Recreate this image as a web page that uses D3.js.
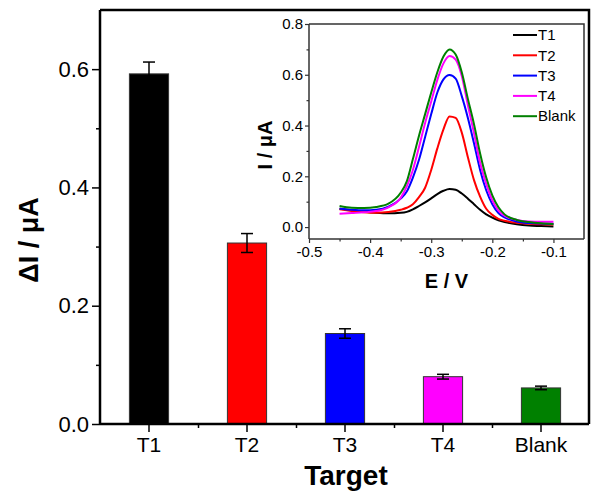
<!DOCTYPE html>
<html><head><meta charset="utf-8">
<script src="https://cdn.jsdelivr.net/npm/d3@7"></script>
<style>
html,body{margin:0;padding:0;background:#fff;}
text{font-family:"Liberation Sans",Arial,Helvetica,sans-serif;}
</style></head>
<body>
<svg id="c" width="597" height="492"></svg>
<script>
// ---------- main bar chart data ----------
const categories = ["T1","T2","T3","T4","Blank"];
const barValues  = [0.592, 0.306, 0.153, 0.080, 0.061];
const barErrors  = [0.020, 0.016, 0.008, 0.004, 0.003];
const barColors  = ["#000000","#ff0000","#0000ff","#ff00ff","#008000"];
const yTicksMain = [0.0, 0.2, 0.4, 0.6];
const yMinorMain = [0.1, 0.3, 0.5];

// ---------- inset DPV curves ----------
const potential = [-0.45,-0.43,-0.41,-0.39,-0.37,-0.35,-0.34,-0.33,-0.32,-0.31,-0.30,-0.29,-0.28,-0.27,-0.26,-0.25,-0.24,-0.23,-0.22,-0.21,-0.20,-0.19,-0.18,-0.16,-0.14,-0.12,-0.10];
const curveT1    = [0.072,0.066,0.060,0.056,0.054,0.056,0.060,0.070,0.083,0.097,0.113,0.130,0.143,0.150,0.147,0.132,0.112,0.090,0.068,0.050,0.037,0.027,0.020,0.011,0.006,0.004,0.002];
const curveT2    = [0.070,0.063,0.058,0.056,0.059,0.068,0.076,0.090,0.118,0.155,0.225,0.310,0.385,0.436,0.430,0.372,0.275,0.185,0.120,0.072,0.048,0.032,0.025,0.017,0.013,0.011,0.010];
const curveT3    = [0.072,0.068,0.066,0.068,0.080,0.112,0.140,0.195,0.265,0.355,0.445,0.530,0.582,0.599,0.585,0.516,0.430,0.330,0.225,0.145,0.090,0.055,0.038,0.022,0.016,0.014,0.013];
const curveT4    = [0.052,0.055,0.058,0.063,0.078,0.115,0.160,0.225,0.315,0.410,0.495,0.580,0.645,0.674,0.660,0.595,0.480,0.370,0.253,0.170,0.105,0.065,0.045,0.028,0.022,0.021,0.021];
const curveBlank = [0.083,0.076,0.075,0.079,0.092,0.135,0.180,0.268,0.360,0.445,0.530,0.610,0.672,0.700,0.680,0.610,0.505,0.405,0.290,0.195,0.125,0.078,0.050,0.028,0.020,0.015,0.012];
const curveNames = ["T1","T2","T3","T4","Blank"];
const curveColors = ["#000000","#ff0000","#0000ff","#ff00ff","#008000"];
const insetXTicks = [-0.5,-0.4,-0.3,-0.2,-0.1];
const insetXMinor = [-0.45,-0.35,-0.25,-0.15];
const insetYTicks = [0.0,0.2,0.4,0.6,0.8];
const insetYMinor = [0.1,0.3,0.5,0.7];

const svg = d3.select("#c");

// ---------- main chart ----------
const M = {left:100, right:589, top:10, bottom:424};
const x = d3.scaleBand().domain(categories).range([M.left, M.right+1]).paddingInner(0.6).paddingOuter(0.3);
const y = d3.scaleLinear().domain([0, 0.7]).range([M.bottom, M.top]);

// bars
const bars = categories.map((c,i)=>({c, v:barValues[i], e:barErrors[i], col:barColors[i]}));
svg.append("g").selectAll("rect").data(bars).join("rect")
  .attr("x", d=>x(d.c)).attr("width", x.bandwidth())
  .attr("y", d=>y(d.v)).attr("height", d=>y(0)-y(d.v))
  .attr("fill", d=>d.col).attr("stroke","#333").attr("stroke-width",1);

// error bars
const eg = svg.append("g").attr("stroke","#000").attr("stroke-width",1.5);
bars.forEach(d=>{
  const cx = x(d.c)+x.bandwidth()/2;
  eg.append("line").attr("x1",cx).attr("x2",cx).attr("y1",y(d.v+d.e)).attr("y2",y(d.v-d.e));
  eg.append("line").attr("x1",cx-6).attr("x2",cx+6).attr("y1",y(d.v+d.e)).attr("y2",y(d.v+d.e));
  eg.append("line").attr("x1",cx-6).attr("x2",cx+6).attr("y1",y(d.v-d.e)).attr("y2",y(d.v-d.e));
});

// frame
svg.append("path")
  .attr("d",`M${M.left},${M.top}H${M.right}V${M.bottom}`)
  .attr("fill","none").attr("stroke","#000").attr("stroke-width",2.5);

// y axis
const yAx = svg.append("g").attr("transform",`translate(${M.left},0)`)
  .call(d3.axisLeft(y).tickValues(yTicksMain).tickFormat(d3.format(".1f")).tickSize(8).tickPadding(3));
const yMin = svg.append("g").attr("transform",`translate(${M.left},0)`)
  .call(d3.axisLeft(y).tickValues(yMinorMain).tickFormat("").tickSize(4));
// x axis
const xAx = svg.append("g").attr("transform",`translate(0,${M.bottom})`)
  .call(d3.axisBottom(x).tickSize(8).tickPadding(5));
const bounds = categories.slice(1).map(c=>x(c) - x.step()*x.paddingInner()/2);
const xm = d3.scaleLinear().domain([M.left, M.right]).range([M.left, M.right]);
const xMin = svg.append("g").attr("transform",`translate(0,${M.bottom})`)
  .call(d3.axisBottom(xm).tickValues(bounds).tickFormat("").tickSize(4));
yMin.select(".domain").remove();
xMin.select(".domain").remove();
[yAx, xAx, yMin, xMin].forEach(g=>{
  g.selectAll(".domain").attr("stroke","#000").attr("stroke-width",2.5);
  g.selectAll(".tick line").attr("stroke","#000").attr("stroke-width",1.5);
});
yAx.selectAll("text").attr("font-size",22).attr("fill","#000");
xAx.selectAll("text").attr("font-size",21).attr("fill","#000");
yAx.select(".domain").attr("d",`M0,${M.bottom}V${M.top}`);
xAx.select(".domain").attr("d",`M${M.left},0H${M.right}`);

svg.append("text").attr("transform","translate(38,240) rotate(-90)")
  .attr("text-anchor","middle").attr("font-size",27).attr("font-weight","bold").text("ΔI / μA");
svg.append("text").attr("x",346).attr("y",485)
  .attr("text-anchor","middle").attr("font-size",28).attr("font-weight","bold").text("Target");

// ---------- inset ----------
const I = {left:309, right:584, top:24, bottom:239};
const ix = d3.scaleLinear().domain([-0.5,-0.05]).range([I.left, I.right]);
const iy = d3.scaleLinear().domain([-0.047,0.8]).range([I.bottom, I.top]);
const ins = svg.append("g");
ins.append("rect").attr("x",I.left).attr("y",I.top).attr("width",I.right-I.left).attr("height",I.bottom-I.top)
  .attr("fill","#fff");

const seriesVals = [curveT1, curveT2, curveT3, curveT4, curveBlank];
const line = d3.line().x(d=>ix(d[0])).y(d=>iy(d[1])).curve(d3.curveMonotoneX);
seriesVals.forEach((vals,i)=>{
  ins.append("path").datum(potential.map((p,j)=>[p, vals[j]]))
    .attr("d", line).attr("fill","none").attr("stroke",curveColors[i]).attr("stroke-width",2);
});

ins.append("path").attr("d",`M${I.left},${I.top}H${I.right}V${I.bottom}`)
  .attr("fill","none").attr("stroke","#333").attr("stroke-width",1.5);

const iyAx = ins.append("g").attr("transform",`translate(${I.left},0)`)
  .call(d3.axisLeft(iy).tickValues(insetYTicks).tickFormat(d3.format(".1f")).tickSize(4).tickPadding(2));
const iyMin = ins.append("g").attr("transform",`translate(${I.left},0)`)
  .call(d3.axisLeft(iy).tickValues(insetYMinor).tickFormat("").tickSize(2.5));
const ixAx = ins.append("g").attr("transform",`translate(0,${I.bottom})`)
  .call(d3.axisBottom(ix).tickValues(insetXTicks).tickFormat(d3.format(".1f")).tickSize(4).tickPadding(3));
const ixMin = ins.append("g").attr("transform",`translate(0,${I.bottom})`)
  .call(d3.axisBottom(ix).tickValues(insetXMinor).tickFormat("").tickSize(2.5));
[iyMin, ixMin].forEach(g=>g.select(".domain").remove());
[iyAx, ixAx, iyMin, ixMin].forEach(g=>{
  g.selectAll(".domain").attr("stroke","#333").attr("stroke-width",1.5);
  g.selectAll(".tick line").attr("stroke","#333").attr("stroke-width",1.2);
  g.selectAll("text").attr("font-size",15).attr("fill","#000");
});
iyAx.select(".domain").attr("d",`M0,${I.bottom}V${I.top}`);
ixAx.select(".domain").attr("d",`M${I.left},0H${I.right}`);
ixAx.selectAll("text").text(d=>d3.format(".1f")(d).replace("−","-"));

ins.append("text").attr("transform","translate(272,145) rotate(-90)")
  .attr("text-anchor","middle").attr("font-size",20).attr("font-weight","bold").text("I / μA");
ins.append("text").attr("x",446.5).attr("y",288)
  .attr("text-anchor","middle").attr("font-size",20).attr("font-weight","bold").text("E / V");

// legend
const lg = ins.append("g");
curveNames.forEach((n,i)=>{
  const yy = 35 + i*20.3;
  lg.append("line").attr("x1",513).attr("x2",537).attr("y1",yy).attr("y2",yy)
    .attr("stroke",curveColors[i]).attr("stroke-width",2);
  lg.append("text").attr("x",538).attr("y",yy).attr("dy","0.35em")
    .attr("font-size",15).attr("fill","#000").text(n);
});
</script>
</body></html>
